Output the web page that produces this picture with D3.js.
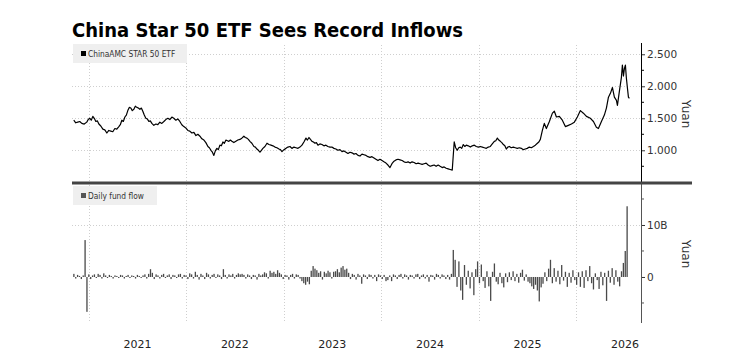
<!DOCTYPE html>
<html><head><meta charset="utf-8">
<script src="https://cdn.jsdelivr.net/npm/d3@7"></script>
<style>body{margin:0;background:#fff} svg{display:block}</style>
</head><body>
<svg id="c" width="742" height="352"></svg>
<script>
const title = "China Star 50 ETF Sees Record Inflows";
const priceLabel = "ChinaAMC STAR 50 ETF";
const flowLabel = "Daily fund flow";
const axisTitle = "Yuan";
const yearLabels = ["2021","2022","2023","2024","2025","2026"];
const priceTicks = [1.0, 1.5, 2.0, 2.5];
const priceMinor = [0.75, 1.25, 1.75, 2.25];
const flowTicks = [0, 10];
const flowMinor = [-5, 5, 15];

// price: time as decimal year, value in yuan
const priceT = [2020.846,2020.866,2020.887,2020.907,2020.928,2020.953,2020.979,2020.994,2021.010,2021.025,
2021.041,2021.056,2021.072,2021.087,2021.103,2021.123,2021.144,2021.164,2021.185,2021.205,
2021.226,2021.246,2021.267,2021.287,2021.308,2021.323,2021.339,2021.354,2021.370,2021.385,
2021.400,2021.415,2021.431,2021.446,2021.462,2021.477,2021.493,2021.508,2021.524,2021.539,
2021.554,2021.569,2021.585,2021.600,2021.616,2021.631,2021.647,2021.667,2021.688,2021.708,
2021.729,2021.749,2021.770,2021.790,2021.811,2021.831,2021.852,2021.872,2021.893,2021.913,
2021.934,2021.954,2021.975,2021.995,2022.016,2022.036,2022.057,2022.078,2022.099,2022.119,
2022.140,2022.160,2022.181,2022.201,2022.222,2022.237,2022.253,2022.268,2022.283,2022.298,
2022.314,2022.329,2022.345,2022.360,2022.376,2022.391,2022.407,2022.422,2022.437,2022.452,
2022.468,2022.488,2022.509,2022.529,2022.550,2022.570,2022.591,2022.606,2022.622,2022.637,
2022.653,2022.673,2022.694,2022.709,2022.725,2022.740,2022.756,2022.771,2022.786,2022.807,
2022.828,2022.848,2022.869,2022.889,2022.910,2022.930,2022.951,2022.966,2022.982,2023.002,
2023.023,2023.043,2023.064,2023.084,2023.105,2023.125,2023.146,2023.166,2023.187,2023.207,
2023.228,2023.243,2023.259,2023.274,2023.290,2023.305,2023.320,2023.335,2023.351,2023.371,
2023.392,2023.412,2023.433,2023.453,2023.474,2023.494,2023.515,2023.535,2023.556,2023.577,
2023.598,2023.618,2023.639,2023.659,2023.680,2023.700,2023.721,2023.741,2023.762,2023.782,
2023.803,2023.823,2023.844,2023.864,2023.885,2023.905,2023.926,2023.946,2023.967,2023.987,
2024.008,2024.028,2024.049,2024.069,2024.090,2024.110,2024.131,2024.151,2024.172,2024.193,
2024.214,2024.234,2024.255,2024.275,2024.296,2024.316,2024.337,2024.357,2024.378,2024.398,
2024.419,2024.439,2024.460,2024.480,2024.501,2024.521,2024.542,2024.562,2024.583,2024.603,
2024.624,2024.644,2024.665,2024.685,2024.706,2024.727,2024.747,2024.762,2024.778,2024.793,
2024.809,2024.824,2024.840,2024.855,2024.871,2024.891,2024.912,2024.932,2024.953,2024.973,
2024.994,2025.014,2025.035,2025.055,2025.076,2025.096,2025.117,2025.137,2025.158,2025.173,
2025.189,2025.204,2025.220,2025.235,2025.251,2025.266,2025.281,2025.296,2025.312,2025.332,
2025.353,2025.373,2025.394,2025.414,2025.435,2025.455,2025.476,2025.496,2025.517,2025.538,
2025.559,2025.579,2025.600,2025.615,2025.630,2025.651,2025.671,2025.692,2025.723,2025.754,
2025.774,2025.795,2025.825,2025.856,2025.887,2025.918,2025.949,2025.979,2026.010,2026.041,
2026.072,2026.103,2026.144,2026.175,2026.205,2026.226,2026.257,2026.287,2026.308,2026.329,
2026.349,2026.370,2026.390,2026.411,2026.421,2026.441,2026.462,2026.472,2026.483,2026.493,
2026.503,2026.513,2026.524,2026.534,2026.544];
const priceV = [1.47,1.43,1.44,1.45,1.42,1.41,1.44,1.48,1.50,1.47,
1.53,1.50,1.45,1.46,1.41,1.38,1.33,1.32,1.27,1.31,
1.30,1.29,1.34,1.33,1.37,1.40,1.47,1.45,1.52,1.55,
1.62,1.67,1.66,1.62,1.64,1.69,1.67,1.66,1.64,1.66,
1.61,1.55,1.50,1.49,1.45,1.46,1.42,1.39,1.41,1.40,
1.44,1.42,1.45,1.48,1.50,1.48,1.52,1.50,1.47,1.49,
1.45,1.40,1.37,1.35,1.31,1.30,1.27,1.28,1.23,1.25,
1.22,1.18,1.16,1.12,1.06,1.04,1.00,0.97,0.92,0.99,
1.03,1.01,1.08,1.07,1.13,1.11,1.16,1.15,1.14,1.16,
1.14,1.12,1.14,1.16,1.17,1.19,1.22,1.20,1.19,1.17,
1.14,1.11,1.06,1.05,1.02,1.00,0.97,1.00,1.03,1.06,
1.11,1.09,1.08,1.07,1.05,1.04,1.02,1.01,0.98,1.01,
1.03,1.05,1.06,1.03,1.05,1.04,1.03,1.05,1.08,1.13,
1.19,1.16,1.20,1.17,1.14,1.13,1.11,1.12,1.08,1.10,
1.09,1.07,1.08,1.06,1.05,1.05,1.03,1.02,1.00,1.01,
0.98,0.99,0.97,0.95,0.97,0.96,0.94,0.95,0.92,0.91,
0.94,0.93,0.92,0.90,0.89,0.90,0.88,0.86,0.84,0.86,
0.84,0.82,0.80,0.77,0.73,0.79,0.83,0.85,0.86,0.85,
0.84,0.82,0.81,0.82,0.80,0.82,0.81,0.79,0.80,0.79,
0.78,0.79,0.80,0.77,0.75,0.76,0.77,0.75,0.77,0.75,
0.73,0.74,0.72,0.71,0.70,0.69,1.13,1.04,1.00,1.04,
1.05,1.03,1.09,1.06,1.08,1.07,1.05,1.07,1.08,1.06,
1.05,1.06,1.05,1.04,1.03,1.05,1.06,1.10,1.14,1.15,
1.19,1.16,1.14,1.12,1.09,1.07,1.02,1.05,1.06,1.04,
1.05,1.04,1.03,1.04,1.03,1.01,1.02,1.03,1.05,1.04,
1.06,1.08,1.11,1.13,1.17,1.31,1.42,1.34,1.45,1.58,
1.61,1.52,1.53,1.47,1.37,1.39,1.41,1.44,1.52,1.62,
1.58,1.53,1.50,1.45,1.36,1.34,1.45,1.55,1.66,1.83,
1.89,1.98,1.83,1.78,1.70,1.92,2.14,2.33,2.16,2.28,
2.33,2.13,1.97,1.83,1.81];

// weekly fund flow, billions of yuan, from flowStart
const flowStart = "2020-11-06";
const flowV = [0.6,-0.3,0.4,0.2,-0.4,0.3,7.1,-6.7,0.5,-0.4,
0.3,0.5,-0.2,0.6,0.4,-0.3,0.7,0.3,-0.2,0.4,
0.2,-0.3,0.3,0.2,-0.2,0.4,0.3,-0.3,0.2,0.4,
-0.2,0.3,0.2,-0.3,0.4,0.2,-0.2,0.3,0.5,-0.3,
0.6,1.5,0.8,-0.4,0.5,0.3,-0.3,0.4,0.6,-0.2,
0.3,0.5,-0.4,0.4,0.3,-0.2,0.5,0.6,-0.3,0.4,
0.3,-0.4,0.7,0.5,-0.3,1.0,0.4,-0.5,0.6,0.3,
-0.4,0.8,0.5,-0.3,0.4,0.6,-0.2,0.5,0.3,-0.4,
1.5,0.4,-0.3,0.5,0.3,0.6,-0.3,0.4,0.7,0.5,
0.6,0.4,-0.3,0.5,0.3,-0.4,0.4,0.3,-0.5,0.6,
0.3,0.5,0.9,0.7,-0.3,1.2,0.8,1.0,0.6,1.3,
0.8,0.5,-0.4,0.4,0.3,-0.5,0.4,0.6,-0.3,0.5,
0.4,-0.3,-0.8,-1.2,-1.5,-0.9,-1.4,1.2,2.1,1.6,
1.3,0.8,1.1,-0.5,1.0,0.7,1.2,0.9,-0.3,1.0,
1.1,1.5,0.9,1.8,2.1,1.4,1.6,0.8,-0.4,0.6,
0.4,-0.5,0.6,0.3,-1.3,0.5,0.3,-0.4,0.5,0.4,
-0.3,0.4,-0.8,0.5,0.3,-0.4,0.4,-0.8,-0.6,0.3,
-0.8,0.5,0.3,-0.4,0.4,0.6,-0.3,0.5,0.3,-0.5,
0.4,0.3,-0.3,0.5,0.6,-0.4,0.3,0.5,-0.3,0.4,
-0.9,0.4,0.3,-0.5,0.6,0.4,-0.3,0.5,0.3,-0.4,
0.4,-0.5,0.6,5.2,3.3,-1.9,3.0,-2.6,-4.4,2.3,
-1.5,1.2,-2.2,0.9,-3.5,1.5,3.0,-1.2,2.4,-0.8,
-2.1,1.1,-1.8,-4.6,1.0,2.6,-0.9,-1.4,0.8,-1.2,
-2.0,0.7,-1.0,0.9,-0.6,1.1,-0.8,0.6,-1.1,0.8,
1.4,-0.7,0.5,-0.9,-1.2,-1.8,-2.3,-1.5,-2.6,-4.7,
-2.0,-1.3,0.9,-0.8,1.6,3.3,-1.2,1.7,-0.9,1.2,
-1.4,2.3,-0.7,1.0,-1.9,0.8,-1.1,1.3,-0.6,-1.5,
0.9,-1.9,1.1,-2.1,1.3,-0.8,2.1,-1.2,-2.4,0.7,
-0.6,-2.3,1.0,-1.6,0.8,-4.6,1.2,-1.1,1.7,-1.5,
1.3,-0.9,-1.8,1.1,2.7,5.0,13.6];

function yearFrac(t){const y=Math.floor(t);const a=new Date(y,0,1),b=new Date(y+1,0,1);return new Date(+a+(t-y)*(b-a));}
const priceData = priceT.map((t,i)=>({d:yearFrac(t),v:priceV[i]}));
const start = d3.timeParse("%Y-%m-%d")(flowStart);
const flowData = flowV.map((v,i)=>({d:d3.timeDay.offset(start,7*i),v}));

const svg = d3.select("#c");
const L=72, R=641;
const FONT = "'DejaVu Sans', Verdana, sans-serif";
const x = d3.scaleTime().domain([new Date(2020,9,30), new Date(2026,7,31)]).range([L,R]);
const yP = d3.scaleLinear().domain([0.489, 2.645]).range([183, 45]);
const yF = d3.scaleLinear().domain([-8.85, 17.69]).range([323, 185]);

// title
svg.append("text").attr("x",72).attr("y",37).attr("font-family","'DejaVu Sans Condensed','DejaVu Sans',sans-serif")
  .attr("font-weight","bold").attr("font-size",19.5).attr("fill","#000")
  .attr("textLength",391).attr("lengthAdjust","spacingAndGlyphs").text(title);

const years = yearLabels.map(s=>new Date(+s,0,1));
const grid = svg.append("g").attr("stroke","#cfcfcf").attr("stroke-dasharray","1,2").attr("stroke-width",1);
years.forEach(d=>{
  const xx=Math.round(x(d))+0.5;
  grid.append("line").attr("x1",xx).attr("x2",xx).attr("y1",45).attr("y2",183);
  grid.append("line").attr("x1",xx).attr("x2",xx).attr("y1",185).attr("y2",323);
});
priceTicks.forEach(v=>{const yy=Math.round(yP(v))+0.5;grid.append("line").attr("x1",L).attr("x2",R).attr("y1",yy).attr("y2",yy);});
[10].forEach(v=>{const yy=Math.round(yF(v))+0.5;grid.append("line").attr("x1",L).attr("x2",R).attr("y1",yy).attr("y2",yy);});

// legends
function legend(y0,w,label,col){
  const g=svg.append("g");
  g.append("rect").attr("x",73).attr("y",y0).attr("width",w).attr("height",19).attr("fill","#efefef");
  g.append("rect").attr("x",81).attr("y",y0+7).attr("width",5).attr("height",5).attr("fill",col);
  g.append("text").attr("x",88).attr("y",y0+13).attr("font-family","'DejaVu Sans Condensed','DejaVu Sans',sans-serif")
    .attr("font-size",8.3).attr("fill","#333").text(label);
}
legend(44,114,priceLabel,"#000");
legend(186,84,flowLabel,"#555");

// flows
const bw = 1.3;
svg.append("g").selectAll("rect").data(flowData).join("rect")
  .attr("x",d=>x(d.d)-bw/2).attr("width",bw)
  .attr("y",d=>Math.min(yF(d.v),yF(0))).attr("height",d=>Math.max(0.8,Math.abs(yF(d.v)-yF(0))))
  .attr("fill","#4a4a4a");

// price line
svg.append("path").datum(priceData).attr("fill","none").attr("stroke","#000").attr("stroke-width",1.2)
  .attr("stroke-linejoin","round").attr("d",d3.line().x(d=>x(d.d)).y(d=>yP(d.v)));

// axes
const axP = svg.append("g").attr("transform",`translate(${R},0)`)
  .call(d3.axisRight(yP).tickValues(priceTicks).tickSize(4).tickFormat(d3.format(".3f")));
axP.select(".domain").remove();
axP.append("line").attr("x1",0.5).attr("x2",0.5).attr("y1",43).attr("y2",183).attr("stroke","#000");
axP.append("g").selectAll("line").data(priceMinor).join("line").attr("x1",0).attr("x2",3)
  .attr("y1",d=>yP(d)).attr("y2",d=>yP(d)).attr("stroke","#000");
const axF = svg.append("g").attr("transform",`translate(${R},0)`)
  .call(d3.axisRight(yF).tickValues(flowTicks).tickSize(4).tickFormat(d=>d===0?"0":d+"B"));
axF.select(".domain").remove();
axF.append("line").attr("x1",0.5).attr("x2",0.5).attr("y1",183).attr("y2",323).attr("stroke","#555");
axF.append("g").selectAll("line").data(flowMinor).join("line").attr("x1",0).attr("x2",3)
  .attr("y1",d=>yF(d)).attr("y2",d=>yF(d)).attr("stroke","#555");
[axP,axF].forEach(a=>{a.selectAll(".tick text").attr("font-family",FONT).attr("font-size",10.5).attr("fill","#333").attr("x",6);
  a.selectAll(".tick line").attr("stroke","#333");});

// separator
svg.append("line").attr("x1",72).attr("x2",692).attr("y1",183).attr("y2",183).attr("stroke","#444").attr("stroke-width",3);

// axis titles
[[114],[254]].forEach(([cy])=>{
  svg.append("text").attr("transform",`translate(682,${cy}) rotate(90)`).attr("text-anchor","middle")
    .attr("font-family",FONT).attr("font-size",12).attr("fill","#333").text(axisTitle);
});

// year labels
svg.append("g").selectAll("text").data(yearLabels).join("text")
  .attr("x",s=>x(new Date(+s,6,2))).attr("y",348).attr("text-anchor","middle")
  .attr("font-family",FONT).attr("font-size",11).attr("fill","#222").text(s=>s);
</script>
</body></html>
